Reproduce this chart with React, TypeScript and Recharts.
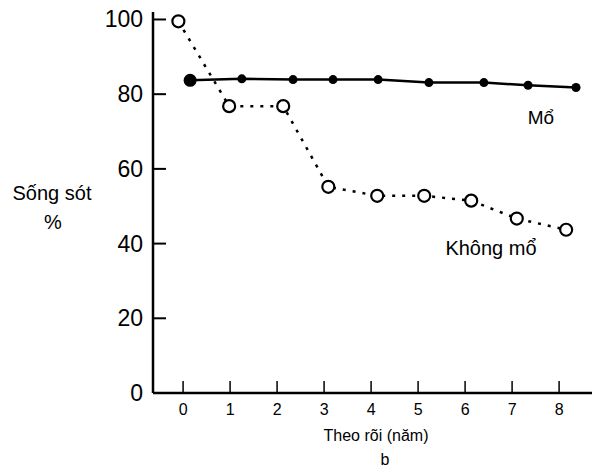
import React from 'react';
import { LineChart, Line, XAxis, YAxis } from 'recharts';

// Mổ (operated) — x positions (years), survival %
const moX = [0.15, 1.25, 2.34, 3.19, 4.15, 5.23, 6.4, 7.34, 8.36];
const moY = [83.7, 84.1, 83.9, 83.9, 83.9, 83.1, 83.1, 82.4, 81.8];

// Không mổ (not operated)
const khongX = [-0.1, 0.98, 2.13, 3.09, 4.13, 5.13, 6.13, 7.1, 8.15];
const khongY = [99.5, 76.8, 76.8, 55.2, 52.8, 52.8, 51.5, 46.7, 43.7];

const xTicks = [0, 1, 2, 3, 4, 5, 6, 7, 8];
const yTicks = [0, 20, 40, 60, 80, 100];

const moData = moX.map((x, i) => ({ x, y: moY[i] }));
const khongData = khongX.map((x, i) => ({ x, y: khongY[i] }));

const FONT = '"Liberation Sans", Arial, Helvetica, sans-serif';

const YTick = (props: any) => {
  const { x, y, payload } = props;
  return (
    <g>
      <line x1={x + 10} y1={y} x2={x + 23} y2={y} stroke="#000" strokeWidth={2} />
      <text x={x} y={y} dy={8} textAnchor="end" fontSize={23} fontFamily={FONT} fill="#000">
        {payload.value}
      </text>
    </g>
  );
};

const XTick = (props: any) => {
  const { x, y, payload } = props;
  return (
    <g>
      <line x1={x} y1={y - 10} x2={x} y2={y - 22} stroke="#000" strokeWidth={1.5} />
      <text x={x} y={y} dy={12} textAnchor="middle" fontSize={16} fontFamily={FONT} fill="#000">
        {payload.value}
      </text>
    </g>
  );
};

const MoDot = (props: any) => {
  const { cx, cy, index } = props;
  return <circle key={'m' + index} cx={cx} cy={cy} r={index === 0 ? 6.5 : 4.5} fill="#000" stroke="none" />;
};

const KhongDot = (props: any) => {
  const { cx, cy, index } = props;
  return <circle key={'k' + index} cx={cx} cy={cy} r={6} fill="#fff" stroke="#000" strokeWidth={2.2} />;
};

export default function App() {
  return (
    <div style={{ position: 'absolute', left: 0, top: 0, width: 601, height: 472, background: '#fff' }}>
      <LineChart width={601} height={472} margin={{ top: 12, right: 9, bottom: 0, left: 0 }}>
        <XAxis
          type="number"
          dataKey="x"
          domain={[-0.64, 8.7]}
          ticks={xTicks}
          allowDataOverflow
          height={79}
          tickSize={0}
          tickMargin={10}
          tick={<XTick />}
          axisLine={{ stroke: '#000', strokeWidth: 2.5 }}
          tickLine={false}
        />
        <YAxis
          type="number"
          dataKey="y"
          domain={[0, 102]}
          ticks={yTicks}
          allowDataOverflow
          width={153}
          tickSize={0}
          tickMargin={10}
          tick={<YTick />}
          axisLine={{ stroke: '#000', strokeWidth: 2.5 }}
          tickLine={false}
        />
        <Line
          data={khongData}
          dataKey="y"
          stroke="#000"
          strokeWidth={2.5}
          strokeDasharray="3 7"
          dot={<KhongDot />}
          isAnimationActive={false}
        />
        <Line
          data={moData}
          dataKey="y"
          stroke="#000"
          strokeWidth={2.5}
          dot={<MoDot />}
          isAnimationActive={false}
        />
      </LineChart>
      <svg width={601} height={472} style={{ position: 'absolute', left: 0, top: 0, pointerEvents: 'none' }}>
        <text x={541} y={124} textAnchor="middle" fontSize={19} fontFamily={FONT} fill="#000">Mổ</text>
        <text x={491} y={255} textAnchor="middle" fontSize={20} fontFamily={FONT} fill="#000">Không mổ</text>
        <text x={52} y={200} textAnchor="middle" fontSize={20} fontFamily={FONT} fill="#000">Sống sót</text>
        <text x={53} y={229} textAnchor="middle" fontSize={20} fontFamily={FONT} fill="#000">%</text>
        <text x={376} y={441} textAnchor="middle" fontSize={16} fontFamily={FONT} fill="#000">Theo rõi (năm)</text>
        <text x={385} y={465} textAnchor="middle" fontSize={16} fontFamily={FONT} fill="#000">b</text>
      </svg>
    </div>
  );
}
